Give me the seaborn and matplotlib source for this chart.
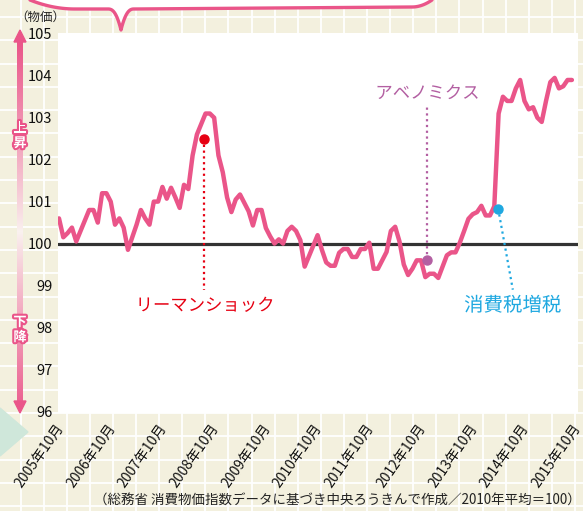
import numpy as np
import pandas as pd
import matplotlib
matplotlib.use("Agg")
import matplotlib.pyplot as plt
import matplotlib.transforms as mtransforms
import seaborn as sns
from matplotlib import patheffects as pe

sns.set_style("white")
plt.rcParams['font.family'] = ['Noto Sans CJK JP', 'DejaVu Sans']

# ---- data (monthly CPI, 2005/10 .. 2015/09, 2010 avg = 100) ----
cpi = [
    100.6, 100.15, 100.25, 100.38, 100.05, 100.3, 100.55, 100.8, 100.8, 100.5,
    101.2, 101.2, 101.0, 100.45, 100.6, 100.38, 99.85, 100.15, 100.45, 100.8,
    100.6, 100.45, 101.0, 101.0, 101.35, 101.07, 101.33, 101.1, 100.85, 101.4,
    101.3, 102.1, 102.6, 102.85, 103.1, 103.1, 103.0, 102.1, 101.7, 101.1,
    100.75, 101.05, 101.17, 100.97, 100.77, 100.43, 100.8, 100.8, 100.37, 100.17,
    100.0, 100.1, 100.0, 100.3, 100.4, 100.3, 100.08, 99.45, 99.7, 99.95,
    100.2, 99.85, 99.55, 99.47, 99.47, 99.78, 99.87, 99.87, 99.68, 99.68,
    99.87, 99.87, 100.02, 99.4, 99.4, 99.6, 99.8, 100.3, 100.4, 100.05,
    99.5, 99.25, 99.4, 99.6, 99.6, 99.2, 99.28, 99.28, 99.18, 99.45,
    99.72, 99.79, 99.79, 100.02, 100.3, 100.59, 100.7, 100.75, 100.9, 100.67,
    100.67, 100.89, 103.1, 103.5, 103.4, 103.4, 103.7, 103.9, 103.4, 103.2,
    103.25, 103.0, 102.9, 103.4, 103.85, 103.95, 103.7, 103.75, 103.9, 103.9,
]
months = list(range(len(cpi)))
tick_months = [0, 12, 24, 36, 48, 60, 72, 84, 96, 108, 120]
tick_labels = [f"{y}年10月" for y in range(2005, 2016)]
y_ticks = [96, 97, 98, 99, 100, 101, 102, 103, 104, 105]

ann_labels = ["リーマンショック", "アベノミクス", "消費税増税"]
ann_colors = ["#e60012", "#b35fa2", "#1fa8e0"]
ann_sizes = [12.5, 12.5, 14]
ann_dot_x = [33.7, 85.5, 101.9]
ann_dot_y = [102.5, 99.6, 100.83]
ann_end_x = [33.7, 85.5, 105.3]
ann_end_y = [98.9, 103.3, 98.9]
ann_text_x = [33.9, 85.5, 105.3]
ann_text_y = [98.52, 103.58, 98.52]

df = pd.DataFrame({"month": months, "cpi": cpi})

W, H = 583, 511
PINK = "#ea5589"
BEIGE = "#f3f0de"

fig = plt.figure(figsize=(W / 100, H / 100), dpi=100, facecolor=BEIGE)

# ---- background decoration (pixel coordinates) ----
bg = fig.add_axes([0, 0, 1, 1])
bg.set_xlim(0, W)
bg.set_ylim(H, 0)
bg.axis("off")
for gx in np.arange(20.5, W, 23.1):
    bg.axvline(gx, color="white", lw=1.3, zorder=0)
for gy in np.arange(17, H, 23.3):
    bg.axhline(gy, color="white", lw=1.3, zorder=0)

# speech-bubble edge at top
xs1 = np.linspace(30, 75, 30)
ys1 = 9 * (1 - ((75 - xs1) / 45) ** 2)
xs2 = np.linspace(75, 108, 10)
ys2 = np.full_like(xs2, 9.0)
xs3 = np.linspace(108, 121, 20)
ys3 = 9 + 21 * ((xs3 - 108) / 13) ** 2.5
xs4 = np.linspace(121, 134, 20)
ys4 = 9 + 21 * ((134 - xs4) / 13) ** 2.5
xs5 = np.linspace(134, 412, 20)
ys5 = np.linspace(9, 7, 20)
xs6 = np.linspace(412, 432, 20)
ys6 = 7 * (1 - ((xs6 - 412) / 20) ** 2)
bx = np.concatenate([xs1, xs2, xs3, xs4, xs5, xs6])
by = np.concatenate([ys1, ys2, ys3, ys4, ys5, ys6])
bg.fill_between(bx, -5, by, color="white", zorder=1)
bg.plot(bx, by, color=PINK, lw=2.4, zorder=2, solid_capstyle="round")

# left gradient arrow
pink_rgb = np.array(matplotlib.colors.to_rgb(PINK))
ys = np.linspace(40, 403, 200)
t = np.clip(np.abs(ys - 232) / 190, 0, 1) ** 0.9
cols = (1 - t)[:, None] * np.array([0.98, 0.95, 0.94]) + t[:, None] * pink_rgb
img = cols[:, None, :]
bg.imshow(img, extent=[17, 23, 403, 40], aspect="auto", zorder=2, interpolation="bilinear")
bg.add_patch(plt.Polygon([[20, 30], [14, 42], [26, 42]], color=PINK, zorder=3))
bg.add_patch(plt.Polygon([[20, 413], [14, 401], [26, 401]], color=PINK, zorder=3))
for ch, yy in [("上", 128), ("昇", 143), ("下", 322), ("降", 337)]:
    bg.text(20, yy, ch, color="white", fontsize=9.5, fontweight="bold", ha="center", va="center", zorder=4,
            path_effects=[pe.withStroke(linewidth=3, foreground=PINK)])

# teal triangle
bg.add_patch(plt.Polygon([[0, 408], [28, 432], [0, 456]], color="#cfe7da", zorder=1))

bg.text(40, 17, "（物価）", fontsize=9, ha="center", va="center", color="#222222")
bg.text(581, 501, "（総務省 消費物価指数データに基づき中央ろうきんで作成／2010年平均＝100）",
        fontsize=9.7, ha="right", va="center", color="#222222")

# ---- main chart ----
ax = fig.add_axes([58 / W, 1 - 413 / H, 520 / W, 380 / H])
ax.set_facecolor("white")
ax.axhline(100, color="#333333", lw=2.3, zorder=1)
sns.lineplot(data=df, x="month", y="cpi", color=PINK, linewidth=3.2, ax=ax, zorder=3)

for lab, c, fs, dx, dy, ex, ey, tx, ty in zip(ann_labels, ann_colors, ann_sizes, ann_dot_x, ann_dot_y,
                                              ann_end_x, ann_end_y, ann_text_x, ann_text_y):
    ax.plot([dx, ex], [dy, ey], color=c, lw=1.6, linestyle=(0, (1, 1.6)), zorder=4)
    ax.plot([dx], [dy], marker="o", markersize=6.5, color=c, zorder=5)
    ax.text(tx, ty, lab, color=c, fontsize=fs, ha="center", va="center", zorder=6,
            path_effects=[pe.withStroke(linewidth=3, foreground="white")])

ax.set_xlim(-0.23, 120.42)
ax.set_ylim(95.96, 105.02)
ax.set_xticks(tick_months)
ax.set_xticklabels(tick_labels, rotation=55, ha="right", va="top", rotation_mode="anchor")
ax.set_yticks(y_ticks)
ax.set_yticklabels([str(v) for v in y_ticks])
ax.tick_params(axis="both", direction="in", length=7, width=1.5, color="#999999",
               labelsize=10.5, labelcolor="#111111")
ax.tick_params(axis="y", pad=4)
ax.tick_params(axis="x", pad=6, labelsize=10)
shift = mtransforms.ScaledTranslation(-4 / 100, 0, fig.dpi_scale_trans)
for lbl in ax.get_xticklabels():
    lbl.set_transform(lbl.get_transform() + shift)
ax.set_xlabel("")
ax.set_ylabel("")
for s in ax.spines.values():
    s.set_visible(False)

fig.savefig("out.png", dpi=100, facecolor=BEIGE)
